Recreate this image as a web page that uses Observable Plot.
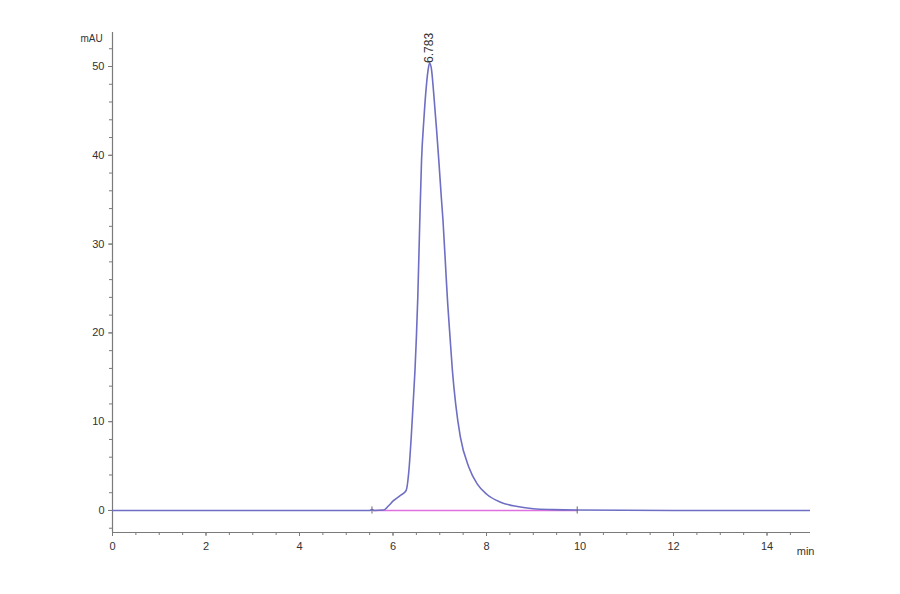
<!DOCTYPE html>
<html>
<head>
<meta charset="utf-8">
<script src="https://cdn.jsdelivr.net/npm/d3@7"></script>
<script src="https://cdn.jsdelivr.net/npm/@observablehq/plot@0.6"></script>
<style>
  html, body { margin: 0; padding: 0; background: #fff; }
  #chart { width: 900px; height: 594px; }
</style>
</head>
<body>
<div id="chart"></div>
<script>
const time = [0, 3.6, 5.5, 5.55, 5.6, 5.8, 5.9, 6.01, 6.16, 6.28, 6.34, 6.39, 6.43, 6.47, 6.50, 6.53, 6.57, 6.61, 6.66, 6.70, 6.75, 6.783, 6.82, 6.87, 6.93, 6.98, 7.03, 7.07, 7.14, 7.17, 7.22, 7.27, 7.34, 7.44, 7.62, 7.80, 8.01, 8.30, 8.66, 9.0, 9.43, 9.9, 12, 15];
const signal = [0, 0, 0, 0.1, 0, 0.05, 0.5, 1.1, 1.7, 2.25, 4.5, 8.3, 12, 15.8, 19.5, 24, 32, 39.4, 44, 47, 49.6, 50.4, 49.8, 47, 43, 39.4, 35.5, 32.6, 26, 23.3, 19.5, 15.8, 12, 8.3, 4.9, 3.0, 1.8, 0.93, 0.45, 0.2, 0.1, 0.05, 0, 0];
const baselineX = [5.58, 9.94];
const baselineY = [0, 0];
const peakTime = 6.783;
const peakHeight = 50.4;
const peakLabel = "6.783";
const xMajor = [0, 2, 4, 6, 8, 10, 12, 14];
const xMinor = d3.range(0, 15, 0.5);
const yMajor = [0, 10, 20, 30, 40, 50];
const yMinor = d3.range(-2, 54, 2);
const xDomain = [0, 14.93];
const yDomain = [-2.48, 53.83];

const trace = time.map((t, i) => ({t, v: signal[i]}));
const base = baselineX.map((t, i) => ({t, v: baselineY[i]}));

const axisColor = "#7a7a7a";
const textColor = "#333";

const plot = Plot.plot({
  width: 900,
  height: 594,
  marginLeft: 112,
  marginRight: 90,
  marginTop: 32,
  marginBottom: 62,
  style: {fontFamily: "Liberation Sans, Arial, sans-serif", fontSize: "11px", color: textColor, background: "#fff"},
  x: {domain: xDomain},
  y: {domain: yDomain},
  marks: [
    Plot.ruleX([xDomain[0]], {y1: yDomain[0], y2: yDomain[1], stroke: axisColor, strokeWidth: 1.2}),
    Plot.ruleY([yDomain[0]], {x1: xDomain[0], x2: xDomain[1], stroke: axisColor, strokeWidth: 1.2}),
    Plot.axisY({ticks: yMinor, tickSize: 3, text: null, stroke: axisColor, label: null}),
    Plot.axisY({ticks: yMajor, tickSize: 4, tickPadding: 4, stroke: axisColor, fill: textColor, label: null}),
    Plot.axisX({ticks: xMinor, tickSize: 3, text: null, stroke: axisColor, label: null}),
    Plot.axisX({ticks: xMajor, tickSize: 4, tickPadding: 6, stroke: axisColor, fill: textColor, label: null}),
    Plot.text(["mAU"], {frameAnchor: "top-left", dx: -32, dy: 2, fill: textColor, textAnchor: "start", fontSize: 10}),
    Plot.text(["min"], {frameAnchor: "bottom-right", dx: 4, dy: 22, fill: textColor, textAnchor: "end", fontSize: 11}),
    Plot.line(base, {x: "t", y: "v", stroke: "#e070e0", strokeWidth: 1.5}),
    Plot.line(trace, {x: "t", y: "v", stroke: "#6e6ec4", strokeWidth: 1.6, curve: "monotone-x", clip: true}),
    Plot.ruleX([5.55, 9.94], {y1: -0.4, y2: 0.4, stroke: "#666", strokeWidth: 1}),
    Plot.text([peakLabel], {x: peakTime, y: peakHeight, rotate: -90, textAnchor: "start", fill: "#333", fontSize: 12})
  ]
});
document.getElementById("chart").appendChild(plot);
</script>
</body>
</html>
